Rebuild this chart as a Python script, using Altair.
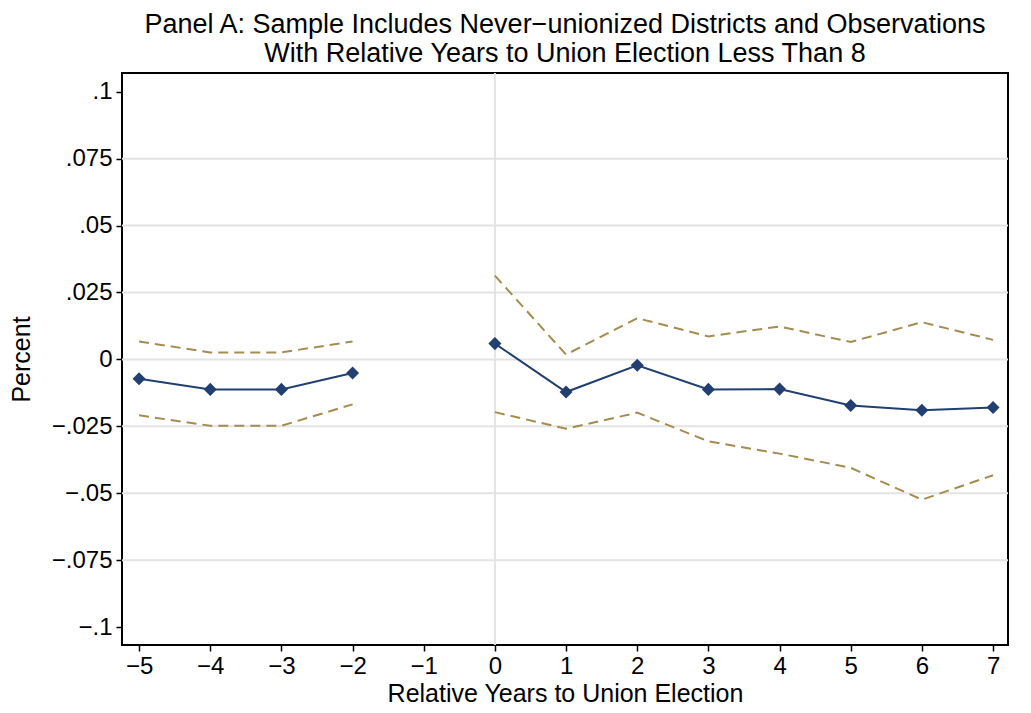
import altair as alt
import pandas as pd

years = [-5, -4, -3, -2, 0, 1, 2, 3, 4, 5, 6, 7]
coef = [-0.0072, -0.0112, -0.0112, -0.0051, 0.0059, -0.0122, -0.0022, -0.0112, -0.0111, -0.0172, -0.0190, -0.0180]
upper = [0.0067, 0.0026, 0.0026, 0.0067, 0.0313, 0.0018, 0.0154, 0.0086, 0.0123, 0.0065, 0.0139, 0.0073]
lower = [-0.0209, -0.0248, -0.0248, -0.0168, -0.0197, -0.0259, -0.0199, -0.0306, -0.0352, -0.0405, -0.0524, -0.0433]
x_ticks = [-5, -4, -3, -2, -1, 0, 1, 2, 3, 4, 5, 6, 7]
y_ticks = [-0.1, -0.075, -0.05, -0.025, 0, 0.025, 0.05, 0.075, 0.1]
grid_vals = [-0.075, -0.05, -0.025, 0, 0.025, 0.05, 0.075]

df = pd.DataFrame({"year": years, "coef": coef, "upper": upper, "lower": lower})
df["seg"] = ["pre" if y < 0 else "post" for y in years]

FONT = "Liberation Sans"
NAVY = "#213f70"
GOLD = "#a38c4f"
GRID = "#e3e3e3"

xdom = [-5.24, 7.21]
ydom = [-0.1067, 0.107]

label_expr = ("datum.value < 0 ? '\u2212' + replace(format(-datum.value, ''), '0.', '.') "
              ": replace(format(datum.value, ''), '0.', '.')")
xlabel_expr = "datum.value < 0 ? '\u2212' + format(-datum.value, 'd') : format(datum.value, 'd')"

xscale = alt.Scale(domain=xdom, nice=False, zero=False)
yscale = alt.Scale(domain=ydom, nice=False, zero=False)

x_axis = alt.Axis(values=x_ticks, labelExpr=xlabel_expr, title="Relative Years to Union Election",
                  grid=False, tickSize=6, tickColor="black", tickWidth=1.5, domain=False,
                  labelFontSize=24, titleFontSize=25, labelFont=FONT, titleFont=FONT,
                  labelColor="black", titleColor="black", titleFontWeight="normal",
                  labelPadding=3, titlePadding=3, labelFlush=False)
y_axis = alt.Axis(values=y_ticks, labelExpr=label_expr, title="Percent", grid=False,
                  tickSize=6, tickColor="black", tickWidth=1.5, domain=False,
                  labelFontSize=24, titleFontSize=25, labelFont=FONT, titleFont=FONT,
                  labelColor="black", titleColor="black", titleFontWeight="normal",
                  labelPadding=4, titlePadding=17, labelFlush=False)

T = "Relative Years to Union Election"
P = "Percent"

grid = alt.Chart(pd.DataFrame({"g": grid_vals})).mark_rule(color=GRID, strokeWidth=2).encode(
    y=alt.Y("g:Q", scale=yscale, axis=y_axis, title=P)
)
vline = alt.Chart(pd.DataFrame({"v": [0]})).mark_rule(color=GRID, strokeWidth=2).encode(
    x=alt.X("v:Q", scale=xscale, axis=x_axis, title=T)
)

base = alt.Chart(df)
xe = alt.X("year:Q", scale=xscale, axis=x_axis, title=T)

up = base.mark_line(color=GOLD, strokeWidth=2, strokeDash=[10, 6]).encode(
    x=xe, y=alt.Y("upper:Q", scale=yscale, axis=y_axis, title=P), detail="seg:N")
lo = base.mark_line(color=GOLD, strokeWidth=2, strokeDash=[10, 6]).encode(
    x=xe, y=alt.Y("lower:Q", scale=yscale, axis=y_axis, title=P), detail="seg:N")
ln = base.mark_line(color=NAVY, strokeWidth=2).encode(
    x=xe, y=alt.Y("coef:Q", scale=yscale, axis=y_axis, title=P), detail="seg:N")
pts = base.mark_point(shape="diamond", filled=True, color=NAVY, size=170, opacity=1).encode(
    x=xe, y=alt.Y("coef:Q", scale=yscale, axis=y_axis, title=P))

chart = alt.layer(grid, vline, up, lo, ln, pts).properties(
    width=886, height=572,
    title=alt.TitleParams(
        text=["Panel A: Sample Includes Never\u2212unionized Districts and Observations",
              "With Relative Years to Union Election Less Than 8"],
        font=FONT, fontSize=27, fontWeight="normal", color="black", anchor="middle",
        lineHeight=29, offset=4),
    autosize=alt.AutoSizeParams(type="none"),
    padding={"left": 114, "top": 65, "right": 10, "bottom": 64},
).configure(background="white").configure_view(stroke="black", strokeWidth=2)

chart.save("out.html", embed_options={"renderer": "svg", "actions": False})
